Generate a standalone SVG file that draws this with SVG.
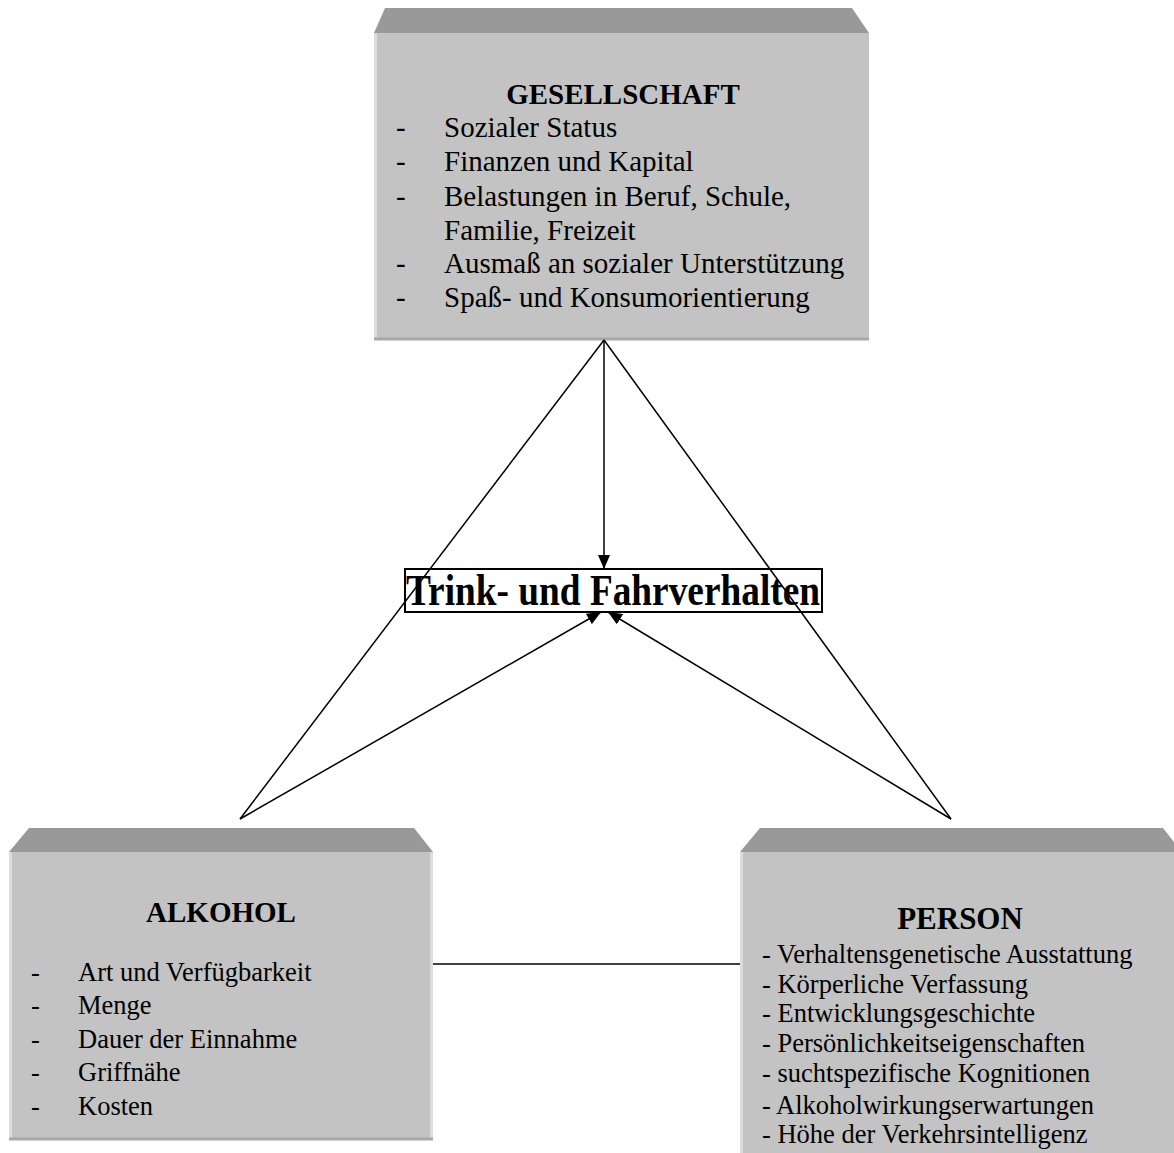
<svg xmlns="http://www.w3.org/2000/svg" width="1174" height="1153" viewBox="0 0 1174 1153">
<style>
.body{fill:#c3c3c3}
.bevel{fill:#999999}
.edge{stroke:#dcdcdc;stroke-width:3}
.shadow{stroke:#a8a8a8;stroke-width:3}
.t{font-family:"Liberation Serif","Times New Roman",serif;fill:#000}
.h{font-weight:bold;text-anchor:middle}
.top{font-size:29px}
.bot{font-size:26.5px}
.ln{stroke:#000;stroke-width:1.5;fill:none}
</style>
<defs>
<marker id="ah" viewBox="0 0 14 12" refX="14" refY="6" markerWidth="14" markerHeight="12" markerUnits="userSpaceOnUse" orient="auto">
<path d="M0,0 L14,6 L0,12 Z" fill="#000"/>
</marker>
</defs>
<rect width="1174" height="1153" fill="#fff"/>

<g id="gesellschaft">
<polygon class="bevel" points="385,8 852,8 869,33 374,33"/>
<rect class="body" x="374" y="33" width="495" height="307"/>
<line class="edge" x1="375.5" y1="33" x2="375.5" y2="340"/>
<line class="shadow" x1="374" y1="339" x2="869" y2="339"/>
<text class="t h top" x="623" y="104">GESELLSCHAFT</text>
<g class="t top">
<text x="396" y="137">-</text><text x="444" y="137">Sozialer Status</text>
<text x="396" y="171">-</text><text x="444" y="171">Finanzen und Kapital</text>
<text x="396" y="206">-</text><text x="444" y="206">Belastungen in Beruf,  Schule,</text>
<text x="444" y="240">Familie, Freizeit</text>
<text x="396" y="273">-</text><text x="444" y="273">Ausmaß an sozialer Unterstützung</text>
<text x="396" y="307">-</text><text x="444" y="307">Spaß- und Konsumorientierung</text>
</g>
</g>

<g id="alkohol">
<polygon class="bevel" points="29,828 414,828 433,852 9,852"/>
<rect class="body" x="9" y="852" width="424" height="288"/>
<line class="edge" x1="10.5" y1="852" x2="10.5" y2="1140"/>
<line class="edge" x1="431.5" y1="852" x2="431.5" y2="1140"/>
<line class="shadow" x1="9" y1="1139" x2="433" y2="1139"/>
<text class="t h top" x="221" y="922">ALKOHOL</text>
<g class="t bot">
<text x="31" y="981">-</text><text x="78" y="981">Art und Verfügbarkeit</text>
<text x="31" y="1014">-</text><text x="78" y="1014">Menge</text>
<text x="31" y="1048">-</text><text x="78" y="1048">Dauer der Einnahme</text>
<text x="31" y="1081">-</text><text x="78" y="1081">Griffnähe</text>
<text x="31" y="1115">-</text><text x="78" y="1115">Kosten</text>
</g>
</g>

<g id="person">
<polygon class="bevel" points="760,828 1163,828 1174,842 1174,852 740,852"/>
<rect class="body" x="740" y="852" width="434" height="301"/>
<line class="edge" x1="741.5" y1="852" x2="741.5" y2="1153"/>
<text class="t h" style="font-size:31px" x="960" y="929">PERSON</text>
<g class="t bot">
<text x="762" y="963">- Verhaltensgenetische Ausstattung</text>
<text x="762" y="993">- Körperliche Verfassung</text>
<text x="762" y="1022">- Entwicklungsgeschichte</text>
<text x="762" y="1052">- Persönlichkeitseigenschaften</text>
<text x="762" y="1082">- suchtspezifische Kognitionen</text>
<text x="762" y="1114">- Alkoholwirkungserwartungen</text>
<text x="762" y="1143">- Höhe der Verkehrsintelligenz</text>
</g>
</g>

<g id="verhalten">
<rect x="405" y="569" width="417" height="43" fill="none" stroke="#000" stroke-width="2"/>
<text class="t" style="font-size:44px;font-weight:bold" x="406" y="605" textLength="414" lengthAdjust="spacingAndGlyphs">Trink- und Fahrverhalten</text>
</g>

<g id="connectors">
<line class="ln" x1="604" y1="340" x2="240" y2="819"/>
<line class="ln" x1="604" y1="340" x2="951" y2="819"/>
<line class="ln" x1="604" y1="340" x2="604" y2="569" marker-end="url(#ah)"/>
<line class="ln" x1="240" y1="819" x2="601" y2="612" marker-end="url(#ah)"/>
<line class="ln" x1="951" y1="819" x2="608" y2="612" marker-end="url(#ah)"/>
<line class="ln" x1="433" y1="964" x2="740" y2="964"/>
</g>
</svg>
